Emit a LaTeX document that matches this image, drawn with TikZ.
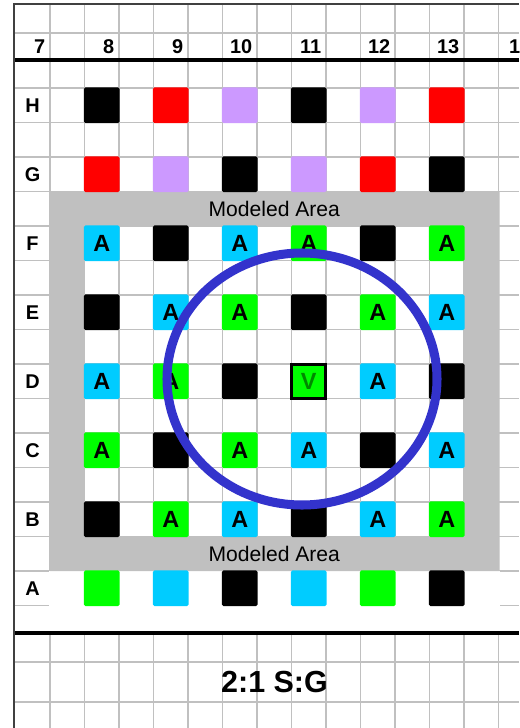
\documentclass[tikz,border=0pt]{standalone}
\usepackage{fontspec}
\setmainfont{Liberation Sans}
\usetikzlibrary{positioning}
\definecolor{gridGray}{HTML}{C0C0C0}
\definecolor{edgeDark}{HTML}{404040}
\definecolor{cellCyan}{HTML}{00CCFF}
\definecolor{cellGreen}{HTML}{00FF00}
\definecolor{cellRed}{HTML}{FF0000}
\definecolor{cellLilac}{HTML}{CC99FF}
\definecolor{vGreen}{HTML}{008800}
\definecolor{ringBlue}{HTML}{3333CC}
\begin{document}
\begin{tikzpicture}[x=0.03cm, y=-0.03cm,
    gridline/.style={draw=gridGray, line width=1.3pt},
    rule/.style={draw=black, line width=2.6pt},
    cell/.style={minimum size=1.075cm, inner sep=0pt, rounded corners=1.5pt,
                 font=\fontsize{20}{24}\selectfont\bfseries},
    blk/.style={cell, fill=black},
    rd/.style={cell, fill=cellRed},
    lav/.style={cell, fill=cellLilac},
    cy/.style={cell, fill=cellCyan},
    gr/.style={cell, fill=cellGreen},
    vsq/.style={cell, fill=cellGreen, draw=black, line width=2.6pt,
                rounded corners=0pt, minimum size=1.02cm, text=vGreen},
    collab/.style={anchor=east, inner sep=0pt, font=\fontsize{17}{20}\selectfont\bfseries},
    rowlab/.style={font=\fontsize{17}{20}\selectfont\bfseries},
    area/.style={font=\fontsize{18}{22}\selectfont},
    ring/.style={draw=ringBlue, line width=7.7pt}]
    \useasboundingbox (0,0) rectangle (519,728);
    \fill[white] (0,0) rectangle (519,728);
    % sheet grid
    \foreach \k in {0,...,13}
      \draw[gridline] ({50+34.5*\k},4) -- ({50+34.5*\k},728);
    \foreach \y in {33,88,122.5,157,191.5,226,260.5,295,329.5,364,398.5,433,
                    467.5,502,536.5,571,605.5,662,702}
      \draw[gridline] (14,\y) -- (519,\y);
    \fill[white] (49,571) rectangle (500,633);
    % modeled area frame
    \fill[gridGray, even odd rule] (50,191.5) rectangle (499.5,571)
                                   (84.5,226) rectangle (464,536.5);
    \draw[rule] (14,60) -- (519,60);
    \draw[rule] (14,633) -- (519,633);
    \draw[draw=edgeDark, line width=1.6pt] (14,728) -- (14,4) -- (519,4);
    % labels
    \foreach \c [count=\k from 0] in {7,...,13}
      \node[collab] (n\c) at ({45.5+69*\k},46.5) {\c};
    \node[collab] (n14) at (531.5,46.5) {14};
    \foreach \r [count=\k from 0] in {H,G,F,E,D,C,B,A}
      \node[rowlab] (r\r) at (32.5,{105.25+69*\k}) {\r};
    \node[area] (areaTop) at (274.25,208.75) {Modeled Area};
    \node[area] (areaBot) at (274.25,553.75) {Modeled Area};
    % cells
    \foreach \s [count=\n from 8] in {blk,rd,lav,blk,lav,rd}
      \node[\s] (h\n) at ({101.75+69*(\n-8)},105.25) {};
    \foreach \s [count=\n from 8] in {rd,lav,blk,lav,rd,blk}
      \node[\s] (g\n) at ({101.75+69*(\n-8)},174.25) {};
    \foreach \s/\t [count=\n from 8] in {cy/A,blk/{},cy/A,gr/A,blk/{},gr/A}
      \node[\s] (f\n) at ({101.75+69*(\n-8)},243.25) {\t};
    \foreach \s/\t [count=\n from 8] in {blk/{},cy/A,gr/A,blk/{},gr/A,cy/A}
      \node[\s] (e\n) at ({101.75+69*(\n-8)},312.25) {\t};
    \foreach \s/\t [count=\n from 8] in {cy/A,gr/A,blk/{},vsq/V,cy/A,blk/{}}
      \node[\s] (d\n) at ({101.75+69*(\n-8)},381.25) {\t};
    \foreach \s/\t [count=\n from 8] in {gr/A,blk/{},gr/A,cy/A,blk/{},cy/A}
      \node[\s] (c\n) at ({101.75+69*(\n-8)},450.25) {\t};
    \foreach \s/\t [count=\n from 8] in {blk/{},gr/A,cy/A,blk/{},cy/A,gr/A}
      \node[\s] (b\n) at ({101.75+69*(\n-8)},519.25) {\t};
    \foreach \s [count=\n from 8] in {gr,cy,blk,cy,gr,blk}
      \node[\s] (a\n) at ({101.75+69*(\n-8)},588.25) {};
    \node[font=\fontsize{26}{30}\selectfont\bfseries] (ratio) at (274.5,682) {2:1 S:G};
    \draw[ring] (302,379) ellipse [x radius=135, y radius=126];
\end{tikzpicture}
\end{document}
